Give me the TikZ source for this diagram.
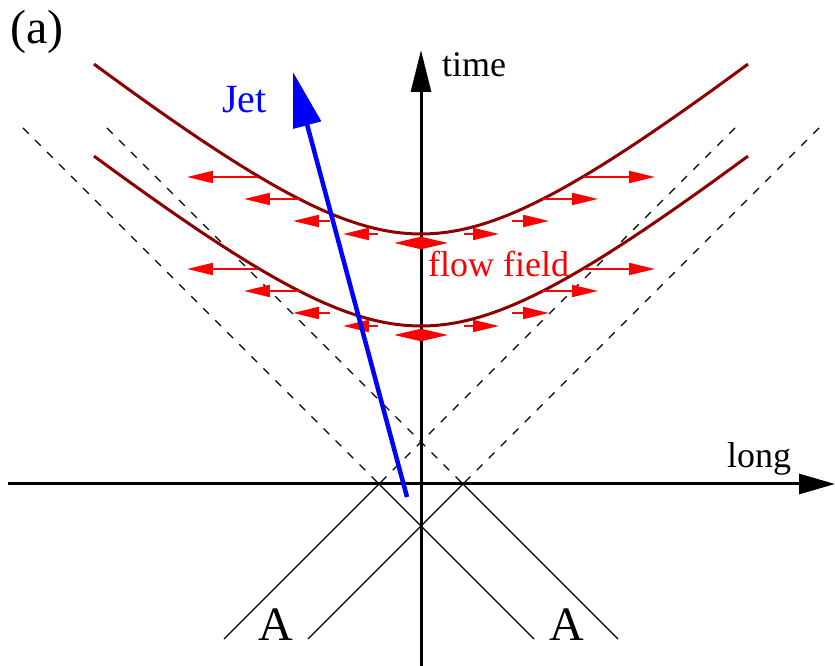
\documentclass[tikz,border=0pt]{standalone}
\usepackage{fontspec}
\setmainfont{Liberation Serif}
\usepackage{tikz}
\usetikzlibrary{arrows.meta, calc}
\usepackage{xcolor}
\definecolor{surfcolor}{RGB}{140,0,0}
\definecolor{jetcolor}{RGB}{0,0,255}
\definecolor{flowcolor}{RGB}{255,0,0}
\tikzset{
  axis/.style      = {line width=3pt, black},
  cone/.style      = {line width=1.4pt, black},
  conedash/.style  = {cone, dash pattern=on 8pt off 9pt},
  surf/.style      = {line width=3pt, color=surfcolor},
  jetarrow/.style  = {line width=4.5pt, color=jetcolor,
                      -{Triangle[length=55pt, width=28pt]}},
  flowarrow/.style = {line width=2pt, color=flowcolor,
                      -{Triangle[length=26pt, width=12pt]}},
  flowboth/.style  = {line width=2pt, color=flowcolor,
                      {Triangle[length=27pt, width=12pt]}-{Triangle[length=27pt, width=12pt]}},
  lbl/.style       = {inner sep=0pt, anchor=base west, font=\rmfamily\fontsize{36}{40}\selectfont},
  biglbl/.style    = {inner sep=0pt, font=\rmfamily\fontsize{48}{50}\selectfont},
}

\begin{document}
\begin{tikzpicture}[x=1pt, y=1pt]
  \useasboundingbox (-421,-182) rectangle (414,484);

  % light-cone lines: dashed above the axis, solid below
  \coordinate (cl) at (-42,0);
  \coordinate (cr) at (42,0);
  \coordinate (ta) at (-398,356);  \coordinate (ba) at (113,-155);
  \coordinate (tb) at (-314,356);  \coordinate (bb) at (197,-155);
  \coordinate (tc) at (314,356);   \coordinate (bc) at (-197,-155);
  \coordinate (td) at (398,356);   \coordinate (bd) at (-113,-155);
  \foreach \t/\c/\b in {ta/cl/ba, tb/cr/bb, tc/cl/bc, td/cr/bd} {
    \draw[conedash] (\t) -- (\c);
    \draw[cone] (\c) -- (\b);
  }

  % axes
  \coordinate (xstart) at (-413,0);
  \coordinate (xend) at (414,0);
  \coordinate (tstart) at (0,-182);
  \coordinate (tend) at (0,434);
  \draw[axis, -{Triangle[length=36pt, width=20pt]}] (xstart) -- (xend);
  \draw[axis, -{Triangle[length=42pt, width=20pt]}] (tstart) -- (tend);

  % hypersurfaces
  \foreach \base in {250, 158} {
    \draw[surf] plot[domain=-327:327, samples=80, smooth]
      (\x, {\base+0.81*(100*sqrt(2.25+(\x/100)^2)-150)});
  }

  % flow field arrows
  \foreach \dy [count=\k] in {0, 92} {
    \foreach \s/\e/\y [count=\i] in {-163/-234/307, -121/-177/285, -91/-128/263,
                                     -43/-78/250, 163/234/307, 121/177/285,
                                     91/128/263, 43/78/250} {
      \coordinate (fs\k-\i) at (\s,\y-\dy);
      \coordinate (fe\k-\i) at (\e,\y-\dy);
      \draw[flowarrow] (fs\k-\i) -- (fe\k-\i);
    }
    \coordinate (dl\k) at (-27,241-\dy);
    \coordinate (dr\k) at (27,241-\dy);
    \draw[flowboth] (dl\k) -- (dr\k);
  }

  % jet
  \coordinate (jetstart) at (-14,-13);
  \coordinate (jetend) at (-128,412);
  \draw[jetarrow] (jetstart) -- (jetend);

  % labels
  \node[biglbl, anchor=base west] (panel) at (-411,440) {(a)};
  \node[lbl] (timelbl) at (21,407) {time};
  \node[lbl] (longlbl) at (306,16) {long};
  \node[lbl, jetcolor, font=\rmfamily\fontsize{40}{44}\selectfont] (jetlbl) at (-199,371) {Jet};
  \node[lbl, flowcolor] (flowlbl) at (7,207) {flow field};
  \node[biglbl, anchor=base] (aleft) at (-145,-156) {A};
  \node[biglbl, anchor=base] (aright) at (146,-156) {A};
\end{tikzpicture}
\end{document}
